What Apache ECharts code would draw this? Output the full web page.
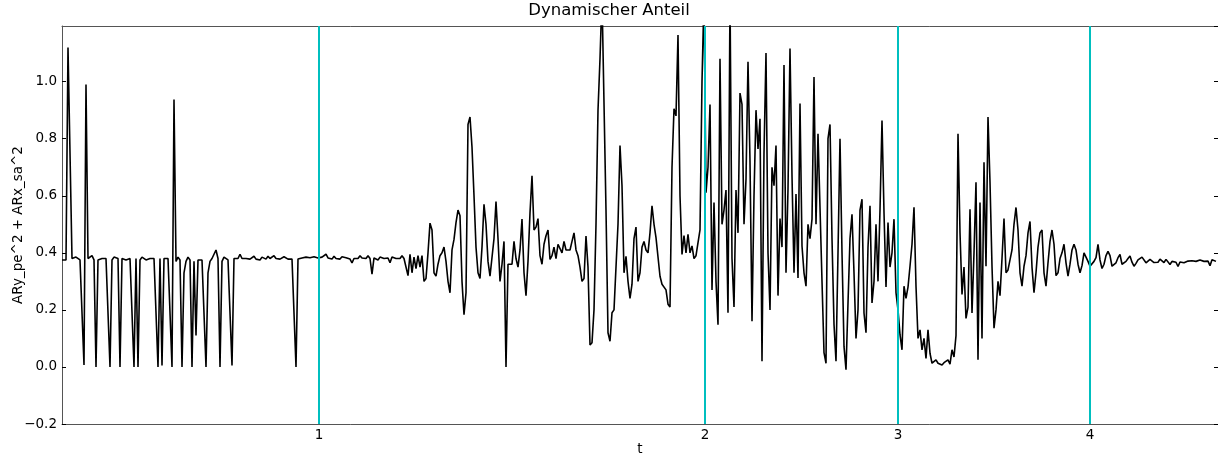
<!DOCTYPE html>
<html>
<head>
<meta charset="utf-8">
<title>Dynamischer Anteil</title>
<script src="https://cdn.jsdelivr.net/npm/echarts@6/dist/echarts.min.js"></script>
<style>
  html, body { margin: 0; padding: 0; background: #ffffff; }
  #chart { width: 1218px; height: 456px; }
</style>
</head>
<body>
<div id="chart"></div>
<script>
// Dynamic share ARy_pe^2 + ARx_sa^2, one value per sample, split by phase.
const segBefore = [
  0.375, 0.375, 0.375, 1.12, 1.12, 0.38, 0.38, 0.385, 0.38, 0.375,
  0.19, 0.007, 0.99, 0.38, 0.375, 0.39, 0.375, 0.0, 0.375, 0.38,
  0.38, 0.375, 0.38, 0.385, 0.0, 0.375, 0.385, 0.39, 0.38, 0.0,
  0.38, 0.38, 0.375, 0.38, 0.38, 0.38, 0.0, 0.38, 0.0, 0.375,
  0.385, 0.38, 0.375, 0.38, 0.38, 0.375, 0.38, 0.38, 0.0, 0.38,
  0.005, 0.38, 0.375, 0.38, 0.38, 0.0, 0.937, 0.37, 0.385, 0.375,
  0.0, 0.33, 0.37, 0.385, 0.375, 0.0, 0.37, 0.11, 0.375, 0.38,
  0.375, 0.38, 0.0, 0.33, 0.37, 0.38, 0.385, 0.41, 0.38, 0.0,
  0.37, 0.385, 0.38, 0.375, 0.38, 0.005, 0.38, 0.385, 0.38, 0.395,
  0.38, 0.385, 0.38, 0.385, 0.378, 0.38, 0.388, 0.378, 0.382, 0.375,
  0.385, 0.38, 0.378, 0.388, 0.38, 0.378, 0.39, 0.38, 0.385, 0.378,
  0.38, 0.386, 0.38, 0.378, 0.38, 0.378, 0.38, 0.0, 0.378, 0.38,
  0.382, 0.378, 0.385, 0.38, 0.383, 0.378, 0.386, 0.38, 0.382
];
const segPhase1 = [
  0.38, 0.385, 0.378, 0.395, 0.382, 0.386, 0.378, 0.388, 0.38, 0.384,
  0.378, 0.386, 0.38, 0.383, 0.38, 0.378, 0.365, 0.38, 0.386, 0.38,
  0.39, 0.382, 0.388, 0.38, 0.39, 0.38, 0.325, 0.382, 0.385, 0.375,
  0.385, 0.378, 0.38, 0.375, 0.382, 0.365, 0.385, 0.378, 0.38, 0.386,
  0.38, 0.39, 0.38, 0.385, 0.32, 0.395, 0.33, 0.385, 0.345, 0.39,
  0.35, 0.39, 0.30, 0.31, 0.40, 0.504, 0.48, 0.33, 0.318, 0.36,
  0.39, 0.40, 0.42, 0.37, 0.30, 0.26, 0.41, 0.447, 0.506, 0.55,
  0.53, 0.30, 0.183, 0.26, 0.85, 0.876, 0.77, 0.60, 0.42, 0.33,
  0.31, 0.42, 0.57, 0.50, 0.37, 0.318, 0.32, 0.45, 0.58, 0.45,
  0.30, 0.36, 0.44, 0.0, 0.36, 0.36, 0.36, 0.44, 0.38, 0.35,
  0.41, 0.518, 0.33, 0.25, 0.37, 0.54, 0.67, 0.48, 0.49, 0.52,
  0.39, 0.36, 0.43, 0.46, 0.48, 0.377, 0.39, 0.42, 0.38, 0.43,
  0.43, 0.40, 0.44, 0.41, 0.41, 0.41, 0.44, 0.47, 0.41, 0.39,
  0.35, 0.30, 0.31, 0.459, 0.35, 0.077, 0.085, 0.20, 0.50, 0.90,
  1.08, 1.3, 1.3, 0.55, 0.12, 0.09, 0.19, 0.2, 0.2, 0.5,
  0.776, 0.635, 0.33, 0.388, 0.30, 0.24, 0.29, 0.45, 0.49, 0.30,
  0.33, 0.42, 0.44, 0.41, 0.40, 0.47, 0.565, 0.50, 0.453, 0.447,
  0.318, 0.29, 0.289, 0.27, 0.22, 0.21, 0.70, 0.905, 0.88, 1.163,
  0.60, 0.394, 0.46, 0.40, 0.465, 0.40, 0.424, 0.38, 0.39, 0.39,
  0.48, 1.0, 1.3
];
const segPhase2 = [
  0.611, 0.70, 0.92, 0.27, 0.576, 0.3, 0.148, 1.08, 0.50, 0.55,
  0.62, 0.19, 1.3, 0.38, 0.21, 0.62, 0.47, 0.96, 0.92, 0.50,
  0.658, 1.07, 0.72, 0.16, 0.6, 0.9, 0.764, 0.87, 0.02, 0.75,
  1.1, 0.4, 0.2, 0.7, 0.635, 0.776, 0.25, 0.52, 0.42, 1.058,
  0.33, 0.623, 1.116, 0.67, 0.33, 0.606, 0.312, 0.923, 0.424, 0.33,
  0.283, 0.5, 0.45, 0.518, 1.016, 0.5, 0.817, 0.817, 0.3, 0.05,
  0.013, 0.8, 0.85, 0.45, 0.15, 0.02, 0.4, 0.8, 0.4, 0.072,
  -0.01, 0.224, 0.45, 0.535, 0.33, 0.1, 0.2, 0.55, 0.588, 0.189,
  0.12, 0.42, 0.565, 0.224, 0.3, 0.5, 0.3, 0.55, 0.864, 0.541,
  0.28, 0.506, 0.35, 0.40, 0.518, 0.26
];
const segPhase3 = [
  0.2, 0.113, 0.06, 0.283, 0.24, 0.28, 0.353, 0.43, 0.56, 0.283,
  0.1, 0.13, 0.06, 0.1, 0.03, 0.13, 0.048, 0.013, 0.019, 0.025,
  0.013, 0.02, 0.007, 0.015, 0.01, 0.025, 0.01, 0.06, 0.035, 0.11,
  0.817, 0.47, 0.254, 0.35, 0.17, 0.21, 0.553, 0.189, 0.4, 0.647,
  0.025, 0.576, 0.1, 0.717, 0.353, 0.876, 0.647, 0.353, 0.136, 0.2,
  0.3, 0.25, 0.38, 0.52, 0.33, 0.34, 0.342, 0.41, 0.5, 0.559,
  0.48, 0.33, 0.283, 0.353, 0.39, 0.47, 0.51, 0.35, 0.26, 0.33,
  0.42, 0.47, 0.48, 0.33, 0.283, 0.365, 0.44, 0.48, 0.43, 0.32,
  0.33, 0.38, 0.40, 0.43, 0.365, 0.318, 0.36, 0.41, 0.43, 0.41,
  0.36, 0.33, 0.355, 0.40, 0.40, 0.37
];
const segPhase4 = [
  0.353, 0.36, 0.37, 0.383, 0.43, 0.375, 0.345, 0.36, 0.39, 0.405,
  0.39, 0.353, 0.35, 0.365, 0.383, 0.394, 0.36, 0.365, 0.37, 0.38,
  0.389, 0.367, 0.353, 0.363, 0.375, 0.372, 0.385, 0.38, 0.365, 0.36,
  0.377, 0.383, 0.366, 0.37, 0.367, 0.378, 0.38, 0.366, 0.377, 0.371,
  0.359, 0.37, 0.377, 0.367, 0.352, 0.368, 0.37, 0.365, 0.367, 0.371,
  0.366, 0.372, 0.377, 0.37, 0.365, 0.375, 0.372, 0.37, 0.377, 0.371,
  0.355, 0.376, 0.38, 0.37
];

// Phase boundaries (sample index) and their tick labels
const phaseAt = [128.5, 321.5, 418, 514];
const phaseNames = ['1', '2', '3', '4'];

// Sample index range and value range
const xMax = 578;
const yMin = -0.2;
const yMax = 1.195;
const yStep = 0.2;

const signal = [].concat(segBefore, segPhase1, segPhase2, segPhase3, segPhase4);
const points = signal.map((v, i) => [i, v]);

const FONT = 'DejaVu Sans';
const SPINE = '#555555';

const yLabel = (v) => {
  const k = Math.round(v / yStep);
  if (Math.abs(v - k * yStep) > 1e-6) return '';
  return (k * yStep).toFixed(1).replace('-', '\u2212');
};

const chart = echarts.init(document.getElementById('chart'), null, { renderer: 'canvas' });

chart.setOption({
  animation: false,
  backgroundColor: '#ffffff',
  title: {
    text: 'Dynamischer Anteil',
    left: 'center',
    top: 2,
    padding: 0,
    textStyle: { fontFamily: FONT, fontSize: 16.5, fontWeight: 'normal', color: '#000' }
  },
  grid: { left: 62, right: 0, top: 26, bottom: 32, containLabel: false, outerBoundsMode: 'none' },
  xAxis: [
    {
      type: 'value', position: 'bottom', min: 0, max: xMax,
      name: 't', nameLocation: 'middle', nameGap: 18, nameMoveOverlap: false,
      nameTextStyle: { fontFamily: FONT, fontSize: 13.5, color: '#000' },
      axisLine: { show: true, onZero: false, lineStyle: { color: SPINE, width: 1 } },
      axisTick: { show: true, inside: true, length: 4, customValues: phaseAt, lineStyle: { color: '#000' } },
      axisLabel: {
        show: true, customValues: phaseAt, margin: 4,
        fontFamily: FONT, fontSize: 13.5, color: '#000',
        formatter: (v) => { const k = phaseAt.indexOf(v); return k >= 0 ? phaseNames[k] : ''; }
      },
      splitLine: { show: false }
    },
    {
      type: 'value', position: 'top', min: 0, max: xMax,
      axisLine: { show: true, onZero: false, lineStyle: { color: SPINE, width: 1 } },
      axisTick: { show: true, inside: true, length: 4, customValues: phaseAt, lineStyle: { color: '#000' } },
      axisLabel: { show: false },
      splitLine: { show: false }
    }
  ],
  yAxis: [
    {
      type: 'value', position: 'left', min: yMin, max: yMax, interval: yStep,
      name: 'ARy_pe^2 + ARx_sa^2', nameLocation: 'middle', nameGap: 37, nameMoveOverlap: false,
      nameTextStyle: { fontFamily: FONT, fontSize: 13.5, color: '#000' },
      axisLine: { show: true, onZero: false, lineStyle: { color: SPINE, width: 1 } },
      axisTick: { show: true, inside: true, length: 4, lineStyle: { color: '#000' } },
      axisLabel: {
        show: true, margin: 5, showMaxLabel: false, showMinLabel: true,
        fontFamily: FONT, fontSize: 13.5, color: '#000', formatter: yLabel
      },
      splitLine: { show: false }
    },
    {
      type: 'value', position: 'right', min: yMin, max: yMax, interval: yStep,
      axisLine: { show: true, onZero: false, lineStyle: { color: SPINE, width: 1 } },
      axisTick: { show: true, inside: true, length: 4, lineStyle: { color: '#000' } },
      axisLabel: { show: false },
      splitLine: { show: false }
    }
  ],
  series: [
    {
      type: 'line',
      xAxisIndex: 0, yAxisIndex: 0,
      data: points,
      showSymbol: false,
      symbol: 'none',
      sampling: null,
      clip: true,
      lineStyle: { color: '#000000', width: 1.6 },
      z: 2
    },
    {
      type: 'line',
      xAxisIndex: 0, yAxisIndex: 0,
      data: [],
      z: 3,
      markLine: {
        silent: true,
        symbol: ['none', 'none'],
        label: { show: false },
        lineStyle: { color: '#00bfbf', width: 2, type: 'solid' },
        data: phaseAt.map((p) => ({ xAxis: p }))
      }
    }
  ]
});
</script>
</body>
</html>
